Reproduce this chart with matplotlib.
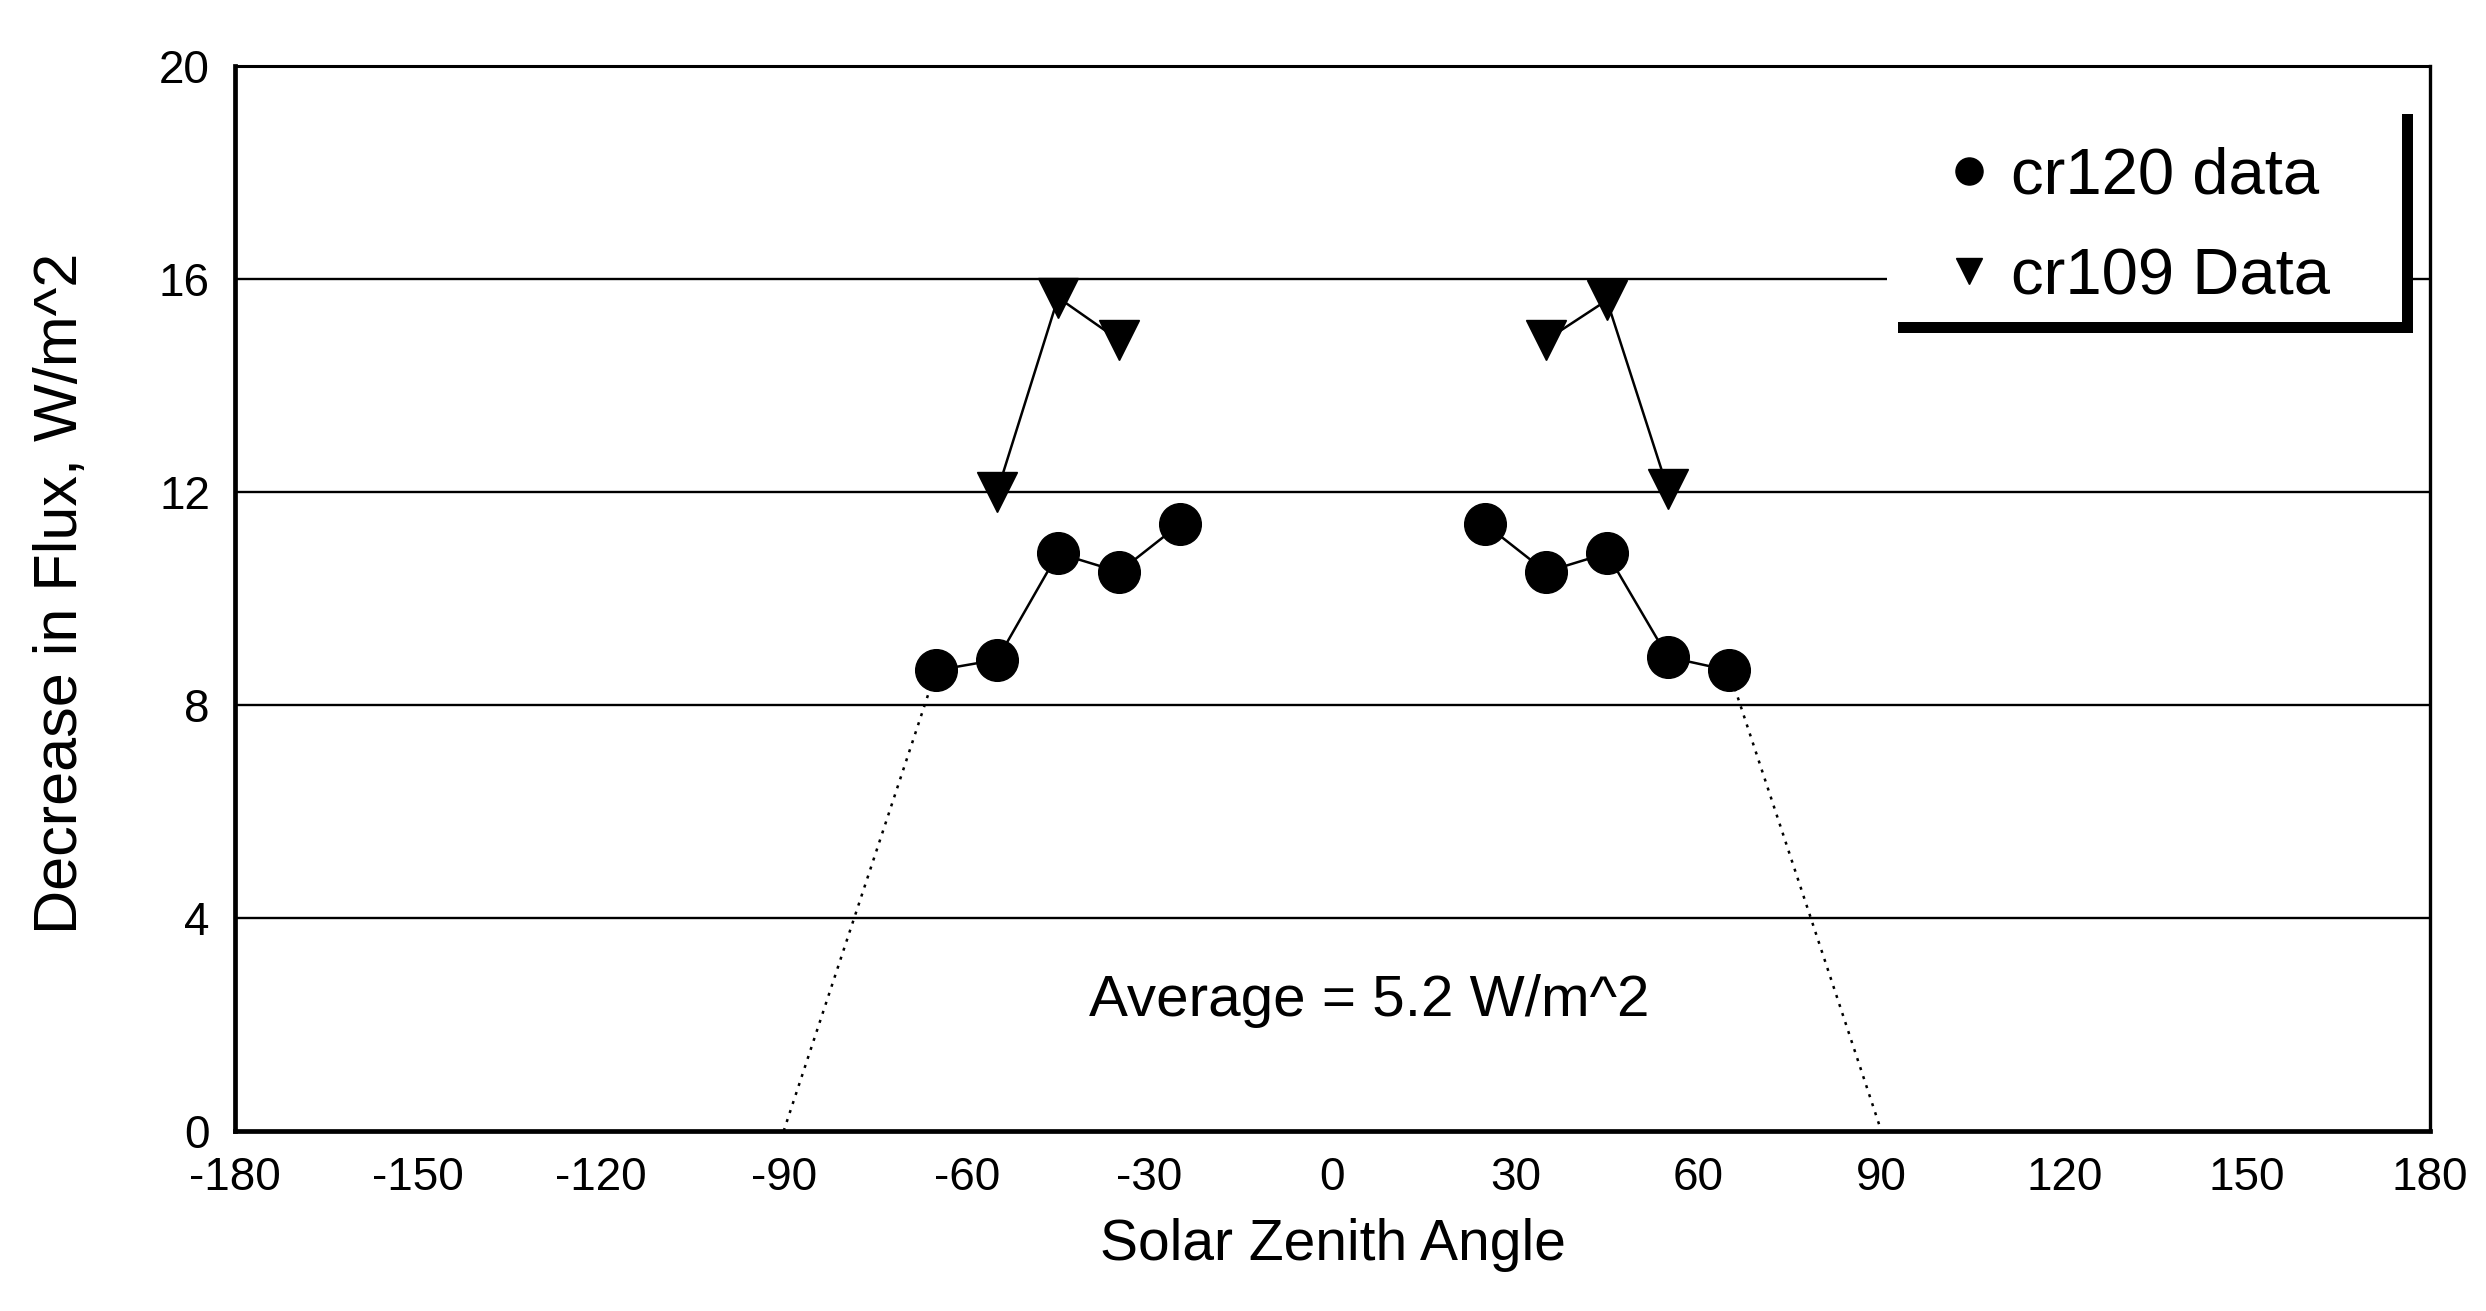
import numpy as np
import matplotlib
matplotlib.use('Agg')
import matplotlib.pyplot as plt
from matplotlib.patches import Rectangle

plt.rcParams['font.family'] = ['Liberation Sans', 'DejaVu Sans']
plt.rcParams['axes.unicode_minus'] = False

# 数据
angle_120 = [-65, -55, -45, -35, -25, 25, 35, 45, 55, 65]
flux_120 = [8.65, 8.85, 10.85, 10.5, 11.4, 11.4, 10.5, 10.85, 8.9, 8.65]
angle_109 = [-55, -45, -35, 35, 45, 55]
flux_109 = [12.0, 15.65, 14.85, 14.85, 15.6, 12.05]
fit_left_x = [-90, -65]
fit_left_y = [0, 8.65]
fit_right_x = [65, 90]
fit_right_y = [8.65, 0]

x_ticks = [-180, -150, -120, -90, -60, -30, 0, 30, 60, 90, 120, 150, 180]
y_ticks = [0, 4, 8, 12, 16, 20]

fig = plt.figure(figsize=(24.86, 13.11), dpi=100)
ax = fig.add_axes([0.0945, 0.1373, 0.883, 0.8124])

# 网格线
for yv in y_ticks[1:-1]:
    ax.axhline(yv, color='black', lw=1.7, zorder=1)

a120 = np.array(angle_120)
f120 = np.array(flux_120)
a109 = np.array(angle_109)
f109 = np.array(flux_109)

# 左右两组分别连线
for side in (a120 < 0, a120 > 0):
    ax.plot(a120[side], f120[side], color='black', lw=1.8, zorder=3)
for side in (a109 < 0, a109 > 0):
    ax.plot(a109[side], f109[side], color='black', lw=1.8, zorder=3)

ax.plot(fit_left_x, fit_left_y, color='black', lw=1.8, ls=(0, (1.2, 2.6)), zorder=2)
ax.plot(fit_right_x, fit_right_y, color='black', lw=1.8, ls=(0, (1.2, 2.6)), zorder=2)

ax.plot(a120, f120, ls='none', marker='o', ms=30, color='black', zorder=4, label='cr120 data')
ax.plot(a109, f109, ls='none', marker='v', ms=29, color='black', zorder=4, label='cr109 Data')

ax.text(6, 2.45, 'Average = 5.2 W/m^2', fontsize=42, ha='center', va='center')

ax.set_xlim(-180, 180)
ax.set_ylim(0, 20)
ax.set_xticks(x_ticks)
ax.set_yticks(y_ticks)
ax.tick_params(length=0, labelsize=33)
ax.tick_params(axis='x', pad=18)
ax.tick_params(axis='y', pad=18)

for name, lw in [('left', 3.4), ('bottom', 3.4), ('top', 2.2), ('right', 2.4)]:
    ax.spines[name].set_linewidth(lw)
    ax.spines[name].set_color('black')

ax.set_xlabel('Solar Zenith Angle', fontsize=41)
ax.set_ylabel('Decrease in Flux, W/m^2', fontsize=44)
ax.xaxis.set_label_coords(0.5, -0.082)
ax.yaxis.set_label_coords(-0.066, 0.505)

# 图例框 (只有右边和下边的阴影线)
bx0, by0, bw, bh = 0.7526, 0.7596, 0.2346, 0.2057
ax.add_patch(Rectangle((bx0 + 0.005, by0 - 0.0103), bw, bh, transform=ax.transAxes,
                       facecolor='black', edgecolor='none', zorder=5))
ax.add_patch(Rectangle((bx0, by0), bw, bh, transform=ax.transAxes,
                       facecolor='white', edgecolor='none', zorder=6))
leg = ax.legend(loc='center', bbox_to_anchor=(0.867, 0.849), frameon=False,
                fontsize=47, markerscale=0.65, handlelength=0.7, handletextpad=0.3,
                labelspacing=0.62, borderpad=0)
leg.set_zorder(7)

fig.savefig('out.png', dpi=100)
